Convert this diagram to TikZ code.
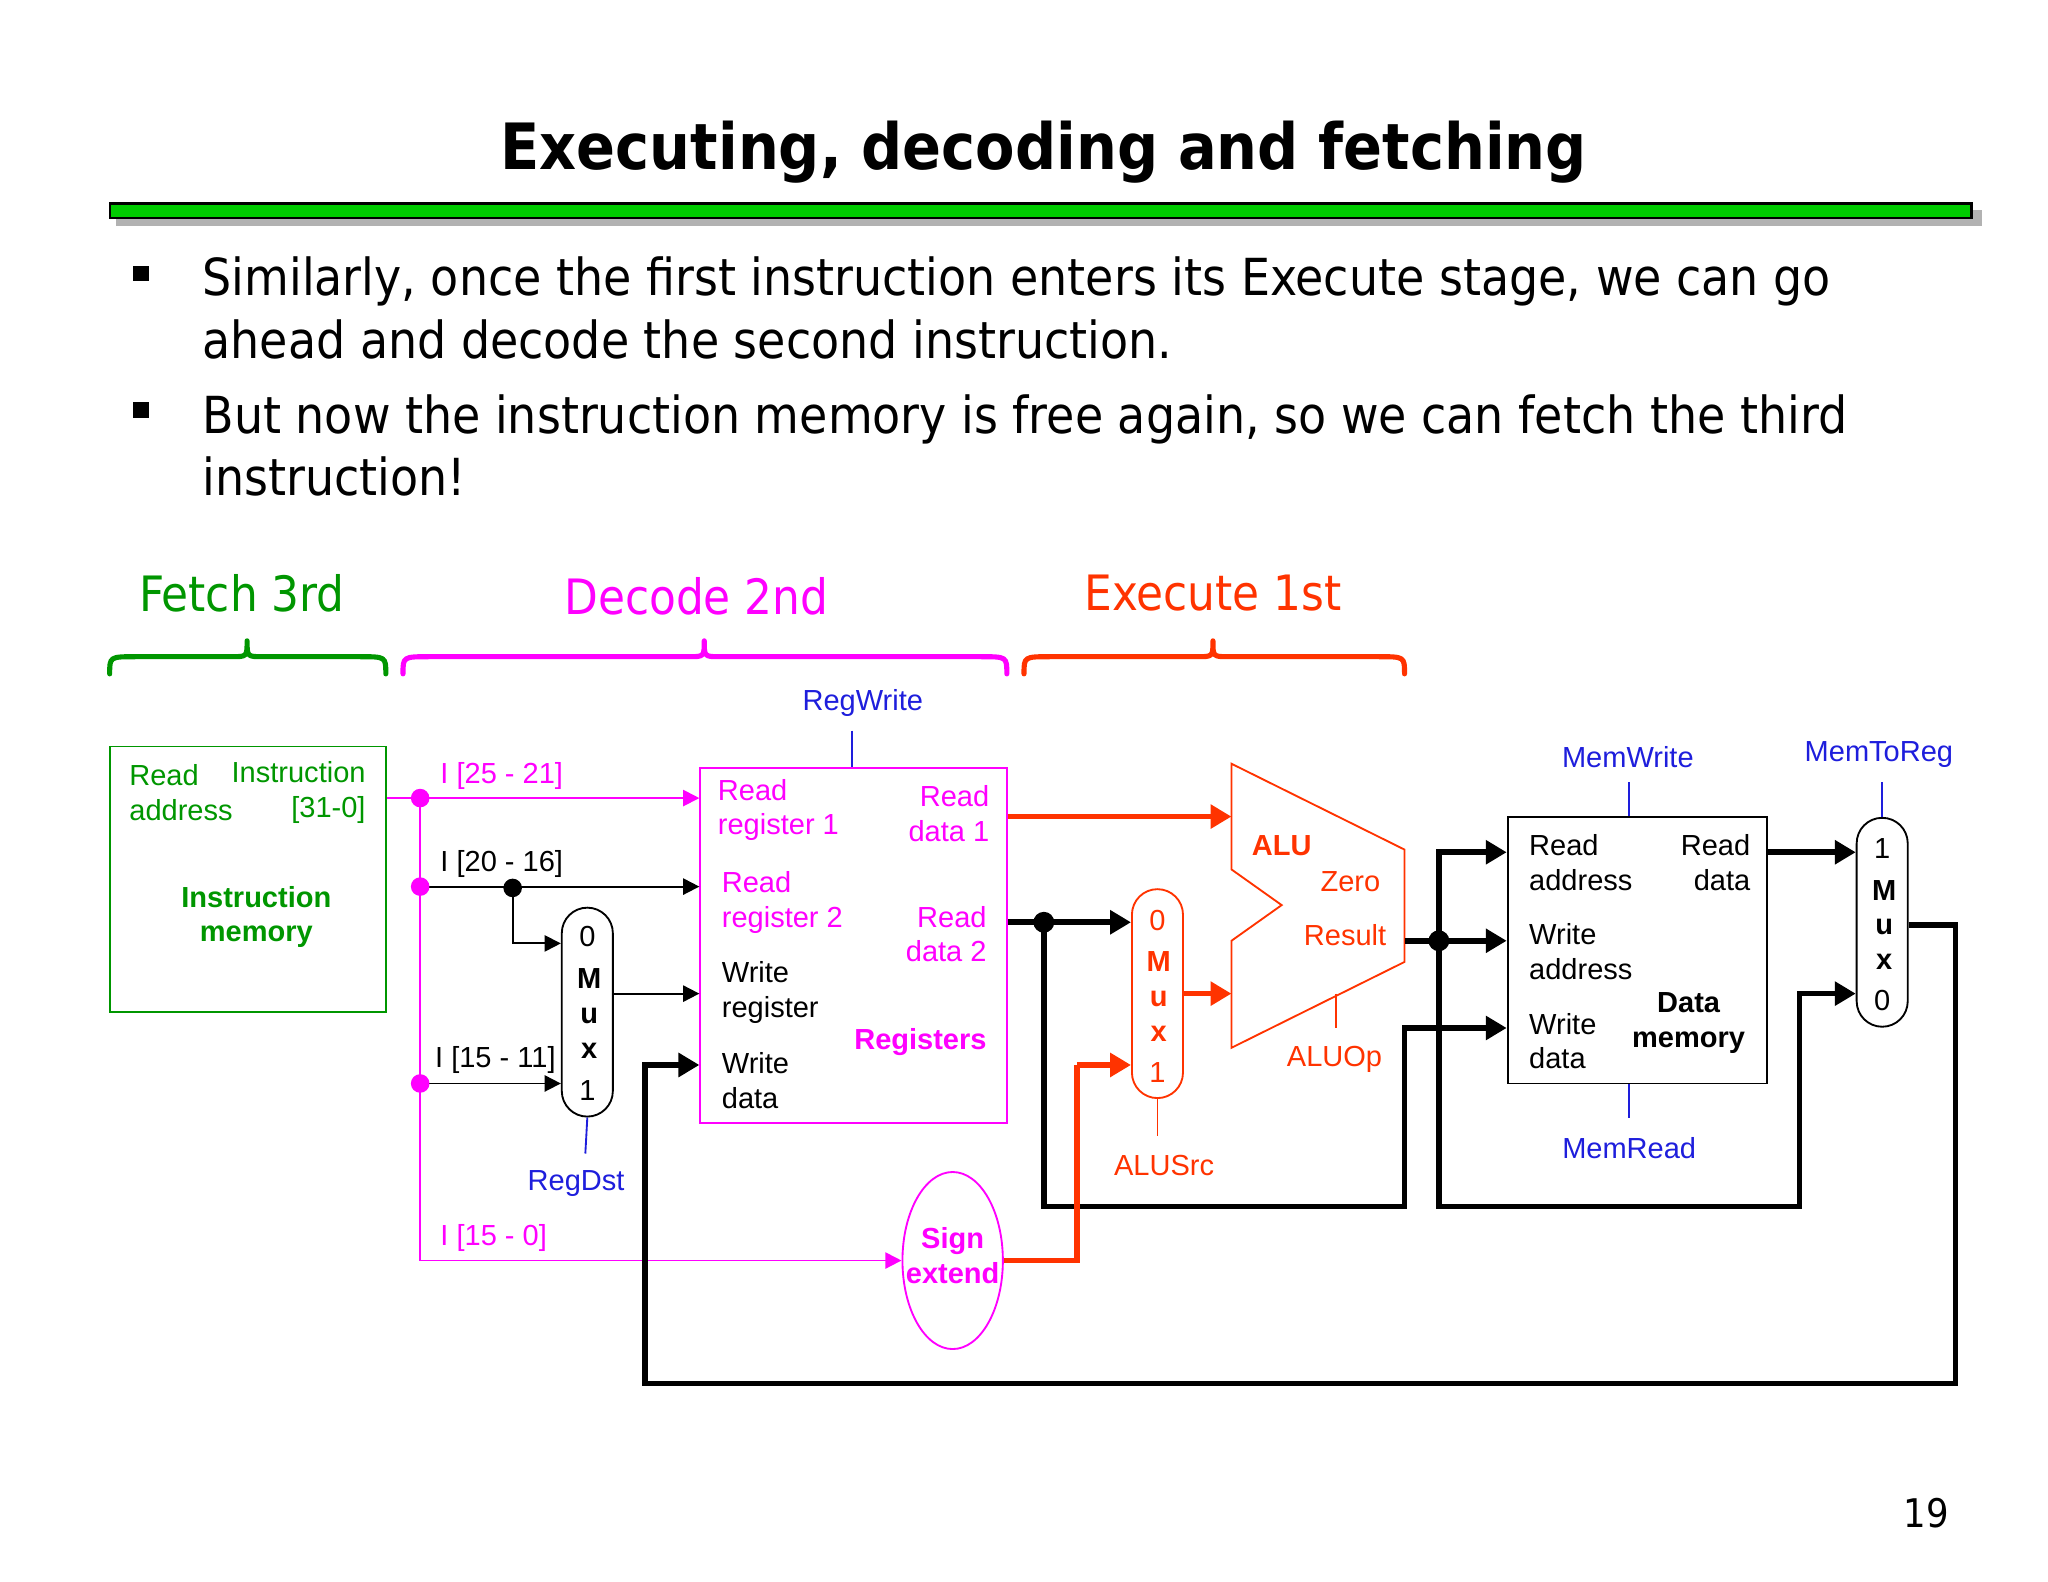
\documentclass[tikz,border=0pt]{standalone}
\usepackage{fontspec}
\setmainfont{Liberation Sans}
\newfontfamily\tah{DejaVu Sans Condensed}
\usetikzlibrary{arrows.meta,shapes.geometric}
\definecolor{fg}{RGB}{0,150,0}
\definecolor{bar}{RGB}{0,204,0}
\definecolor{mg}{RGB}{255,0,255}
\definecolor{rd}{RGB}{255,51,0}
\definecolor{bl}{RGB}{30,30,220}
\tikzset{
 thin line/.style={line width=0.8pt},
 thick line/.style={line width=2.4pt},
 tarr/.style={-{Triangle[length=7pt,width=7pt]}},
 Tarr/.style={-{Triangle[length=9pt,width=10pt]}},
 lbl/.style={font=\fontsize{12.5}{13}\selectfont, inner sep=0pt, align=left},
 dot/.style={circle,fill,inner sep=0pt,minimum size=8pt},
 mux/.style={draw,rounded corners=11pt,thin line,minimum width=22pt,minimum height=90pt,inner sep=0pt},
 brace/.style={line width=2.2pt,line cap=round,line join=round},
}
\newcommand{\mybrace}[4]{% left, right, tip x, colour
 \draw[brace,#4] (#1,510) .. controls (#1,497) .. (#1+20,497) -- (#3-12,497) .. controls (#3,497) .. (#3,485) .. controls (#3,497) .. (#3+12,497) -- (#2-20,497) .. controls (#2,497) .. (#2,510);}
\begin{document}
\begin{tikzpicture}[x=0.02cm,y=-0.02cm]
\useasboundingbox (0,0) rectangle (1550,1197);
% title
\node[font=\tah\bfseries\fontsize{27.5}{32}\selectfont] (title) at (790,115) {Executing, decoding and fetching};
\fill[gray!60] (88,159) rectangle (1500,171);
\draw[fill=bar,line width=1pt] (83,154) rectangle (1492,165);
% bullets
\fill (101,201) rectangle (113,213);
\fill (101,304) rectangle (113,316);
\node[font=\tah\fontsize{22}{27}\selectfont,anchor=north west,align=left,inner sep=0pt] (b1) at (153,194) {Similarly, once the first instruction enters its Execute stage, we can go\\ahead and decode the second instruction.};
\node[font=\tah\fontsize{22}{27}\selectfont,anchor=north west,align=left,inner sep=0pt] (b2) at (153,298) {But now the instruction memory is free again, so we can fetch the third\\instruction!};
% stage labels
\node[font=\tah\fontsize{21}{24}\selectfont,fg] (s1) at (183,449) {Fetch 3rd};
\node[font=\tah\fontsize{21}{24}\selectfont,mg] (s2) at (527,451) {Decode 2nd};
\node[font=\tah\fontsize{21}{24}\selectfont,rd] (s3) at (918,449) {Execute 1st};
\mybrace{83}{292}{187}{fg}
\mybrace{305}{762}{533}{mg}
\mybrace{775}{1063}{918}{rd}
% instruction memory
\node[draw=fg,thin line,minimum width=209*0.02cm,minimum height=201*0.02cm,inner sep=0pt] (imem) at (187.5,665.5) {};
\node[lbl,fg] at (137,600) {Read\\[2pt]address};
\node[lbl,fg,align=right,anchor=east] at (277,600) {Instruction\\[2pt]{[31-0]}};
\node[lbl,fg,font=\bfseries\fontsize{12.5}{13}\selectfont,align=center] at (194,694) {Instruction\\[2pt]memory};
% registers
\node[draw=mg,thin line,minimum width=232*0.02cm,minimum height=269*0.02cm,inner sep=0pt] (regs) at (646,715.5) {};
\node[lbl,mg,anchor=west] at (543,613) {Read\\[2pt]register 1};
\node[lbl,mg,anchor=east,align=right] at (749,616) {Read\\[2pt]data 1};
\node[lbl,mg,anchor=west] at (546,683) {Read\\[2pt]register 2};
\node[lbl,mg,anchor=east,align=right] at (747,707) {Read\\[2pt]data 2};
\node[lbl,anchor=west] at (546,751) {Write\\[2pt]register};
\node[lbl,mg,anchor=east,font=\bfseries\fontsize{12.5}{13}\selectfont] at (747,789) {Registers};
\node[lbl,anchor=west] at (546,818) {Write\\[2pt]data};
\node[lbl,bl] (rw) at (653,532) {RegWrite};
\draw[bl,thin line] (645,553) -- (regs.north -| 645,0);
% mux RegDst
\node[mux] (m1) at (444.5,766) {};
\node[lbl,align=center,font=\fontsize{12.5}{15}\selectfont] at (444.5,709) {0};
\node[lbl,align=center,font=\bfseries\fontsize{12.5}{15}\selectfont] at (446,767) {M\\u\\x};
\node[lbl] at (444.5,825) {1};
\draw[bl,thin line] (m1.south) -- (443,873);
\node[lbl,bl] at (436,896) {RegDst};
% sign extend
\node[draw=mg,thin line,ellipse,minimum width=76*0.02cm,minimum height=134*0.02cm,inner sep=0pt] (se) at (721,954) {};
\node[lbl,mg,align=center,font=\bfseries\fontsize{12.5}{13}\selectfont] at (721,950) {Sign\\[2pt]extend};
% instruction wires
\coordinate (p1) at (318,604); \coordinate (p2) at (318,671); \coordinate (p3) at (318,820); \coordinate (p4) at (318,954);
\draw[mg,thin line] (imem.east |- p1) -- (p1) -- (p4);
\draw[mg,thin line,tarr] (p1) -- (regs.west |- p1);
\draw[thin line,tarr] (p2) -- (regs.west |- p2);
\draw[thin line,tarr] (388,671) -- (388,714) -- (m1.west |- 0,714);
\draw[thin line,tarr] (p3) -- (m1.west |- p3);
\draw[mg,thin line,tarr] (p4) -- (se.west);
\draw[thin line,tarr] (m1.east |- 0,752) -- (regs.west |- 0,752);
\node[dot,mg] at (p1) {}; \node[dot,mg] at (p2) {}; \node[dot,mg] at (p3) {};
\node[dot] at (388,672) {};
\node[lbl,mg,anchor=west] at (333,587) {I [25 - 21]};
\node[lbl,anchor=west] at (333,654) {I [20 - 16]};
\node[lbl,anchor=west] at (329,802) {I [15 - 11]};
\node[lbl,mg,anchor=west] at (333,937) {I [15 - 0]};
% ALUSrc mux
\node[mux,draw=rd] (m2) at (876,752) {};
\node[lbl,rd] at (876,697) {0};
\node[lbl,rd,align=center,font=\bfseries\fontsize{12.5}{15}\selectfont] at (877,754) {M\\u\\x};
\node[lbl,rd] at (876,812) {1};
\draw[rd,thin line] (m2.south) -- (876,860);
\node[lbl,rd] at (881,882) {ALUSrc};
% ALU
\draw[rd,thin line] (932,578) -- (1063,643) -- (1063,728) -- (932,793) -- (932,712) -- (970,685) -- (932,658) -- cycle;
\node[lbl,rd,font=\bfseries\fontsize{12.5}{13}\selectfont] at (970,640) {ALU};
\node[lbl,rd] at (1022,667) {Zero};
\node[lbl,rd] at (1018,708) {Result};
\draw[rd,thin line] (1011,752) -- (1011,778);
\node[lbl,rd] at (1010,802) {ALUOp};
% data memory
\node[draw,thin line,minimum width=196*0.02cm,minimum height=202*0.02cm,inner sep=0pt] (dmem) at (1239,719) {};
\node[lbl,anchor=west] at (1157,653) {Read\\[2pt]address};
\node[lbl,anchor=east,align=right] at (1325,653) {Read\\[2pt]data};
\node[lbl,anchor=west] at (1157,720) {Write\\[2pt]address};
\node[lbl,anchor=west] at (1157,788) {Write\\[2pt]data};
\node[lbl,align=center,font=\bfseries\fontsize{12.5}{13}\selectfont] at (1278,774) {Data\\[2pt]memory};
\draw[bl,thin line] (1233,592) -- (dmem.north -| 1233,0);
\node[lbl,bl] at (1232,573) {MemWrite};
\draw[bl,thin line] (dmem.south -| 1233,0) -- (1233,846);
\node[lbl,bl] at (1233,869) {MemRead};
% MemToReg mux
\node[mux] (m3) at (1424.5,698) {};
\node[lbl] at (1424.5,642) {1};
\node[lbl,align=center,font=\bfseries\fontsize{12.5}{15}\selectfont] at (1426,700) {M\\u\\x};
\node[lbl] at (1424.5,757) {0};
\draw[bl,thin line] (1424.5,592) -- (m3.north);
\node[lbl,bl] at (1422,571) {MemToReg};
% execute wires
\draw[rd,thick line,Tarr] (regs.east |- 0,618) -- (932,618);
\draw[thick line,Tarr] (regs.east |- 0,698) -- (m2.west |- 0,698);
\draw[thick line,Tarr] (790,698) -- (790,913) -- (1063,913) -- (1063,778) -- (dmem.west |- 0,778);
\node[dot,minimum size=9pt] at (790,698) {};
\draw[rd,thick line] (se.east) -- (815,954) -- (815,806);
\draw[rd,thick line,Tarr] (815,806) -- (m2.west |- 0,806);
\draw[rd,thick line,Tarr] (m2.east |- 0,752) -- (932,752);
\draw[thick line,Tarr] (1063,712) -- (dmem.west |- 0,712);
\draw[thick line,Tarr] (1089,712) -- (1089,645) -- (dmem.west |- 0,645);
\draw[thick line,Tarr] (1089,712) -- (1089,913) -- (1362,913) -- (1362,752) -- (m3.west |- 0,752);
\node[dot,minimum size=9pt] at (1089,712) {};
\draw[thick line,Tarr] (dmem.east |- 0,645) -- (m3.west |- 0,645);
\draw[thick line,Tarr] (m3.east |- 0,700) -- (1480,700) -- (1480,1047) -- (488,1047) -- (488,806) -- (regs.west |- 0,806);
% page number
\node[font=\tah\fontsize{17}{20}\selectfont] (pg) at (1458,1145) {19};
\end{tikzpicture}
\end{document}
